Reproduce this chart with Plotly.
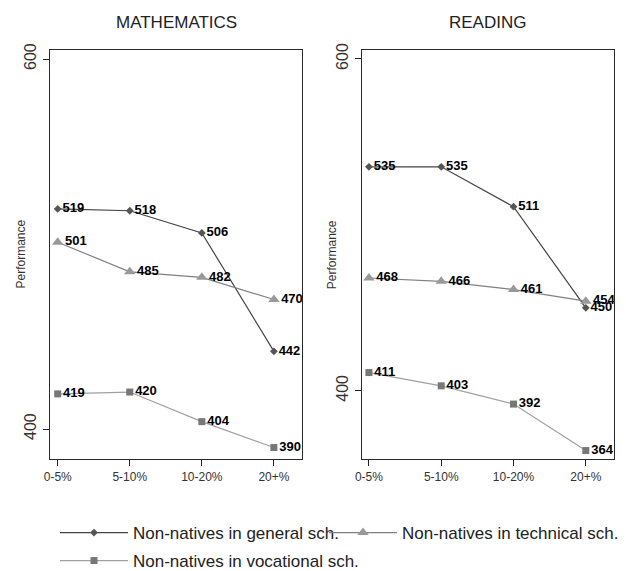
import plotly.graph_objects as go

categories = ["0-5%", "5-10%", "10-20%", "20+%"]

math_general = [519, 518, 506, 442]
math_technical = [501, 485, 482, 470]
math_vocational = [419, 420, 404, 390]

read_general = [535, 535, 511, 450]
read_technical = [468, 466, 461, 454]
read_vocational = [411, 403, 392, 364]

panel_titles = ["MATHEMATICS", "READING"]
series_names = ["Non-natives in general sch.", "Non-natives in technical sch.", "Non-natives in vocational sch."]
y_title = "Performance"
y_ticks = [400, 600]

FONT = "Liberation Sans, Arial, sans-serif"

styles = [
    dict(line=dict(color="#444444", width=1.2), marker=dict(symbol="diamond", size=6, color="#555555")),
    dict(line=dict(color="#808080", width=1.2), marker=dict(symbol="triangle-up", size=10, color="#999999")),
    dict(line=dict(color="#a0a0a0", width=1.2), marker=dict(symbol="square", size=7, color="#777777")),
]
legend_ids = ["legend", "legend2", "legend3"]

fig = go.Figure()

panels = [
    ("x", "y", [math_general, math_technical, math_vocational]),
    ("x2", "y2", [read_general, read_technical, read_vocational]),
]

for p, (xa, ya, series) in enumerate(panels):
    for i, vals in enumerate(series):
        fig.add_trace(go.Scatter(
            x=categories, y=vals, mode="lines+markers+text",
            text=[str(v) for v in vals], textposition="middle right",
            textfont=dict(family=FONT, size=13, color="#000000", weight="bold"),
            line=styles[i]["line"], marker=styles[i]["marker"],
            name=series_names[i], showlegend=(p == 0), legend=legend_ids[i],
            xaxis=xa, yaxis=ya, cliponaxis=False,
        ))

axis_common = dict(showline=True, linecolor="#2a2a2a", linewidth=1.3, mirror=True,
                   ticks="outside", ticklen=6, tickcolor="#222222", showgrid=False,
                   zeroline=False, automargin=False)

L, R, T, B = 50, 12, 50, 112
W, H = 626, 571
pw = W - L - R
ph = H - T - B
left_dom = [0, (302 - L) / pw]
right_dom = [(361.7 - L) / pw, 1]

def ly(px):
    return -(px - (H - B)) / ph

leg_common = dict(orientation="h", xanchor="left", yanchor="middle",
                  font=dict(size=17, color="#222222"), itemwidth=68, bgcolor="rgba(0,0,0,0)")

fig.update_layout(
    width=W, height=H,
    margin=dict(l=L, r=R, t=T, b=B, autoexpand=False),
    paper_bgcolor="white", plot_bgcolor="white",
    font=dict(family=FONT, color="#333333"),
    xaxis=dict(domain=left_dom, type="category", range=[-0.107, 3.39],
               tickfont=dict(size=12, color="#333333"), **axis_common),
    xaxis2=dict(domain=right_dom, type="category", range=[-0.10, 3.39], anchor="y2",
                tickfont=dict(size=12, color="#333333"), **axis_common),
    yaxis=dict(domain=[0, 1], range=[383.8, 604.9], tickvals=y_ticks, tickangle=-90,
               tickfont=dict(size=16, color="#333333"), **axis_common),
    yaxis2=dict(domain=[0, 1], range=[358.9, 605.4], tickvals=y_ticks, tickangle=-90, anchor="x2",
                tickfont=dict(size=16, color="#333333"), **axis_common),
    legend=dict(x=(55 - L) / pw, y=ly(533), **leg_common),
    legend2=dict(x=(324 - L) / pw, y=ly(533), **leg_common),
    legend3=dict(x=(55 - L) / pw, y=ly(561), **leg_common),
)

centers = [(left_dom[0] + left_dom[1]) / 2, (right_dom[0] + right_dom[1]) / 2]
for c, t in zip(centers, panel_titles):
    fig.add_annotation(x=c, y=1 + (T - 23) / ph, xref="paper", yref="paper", text=t,
                       showarrow=False, font=dict(family=FONT, size=17, color="#222222"),
                       xanchor="center", yanchor="middle")

for dom in (left_dom, right_dom):
    fig.add_annotation(x=dom[0] - 30 / pw, y=0.5, xref="paper", yref="paper", text=y_title,
                       textangle=-90, showarrow=False,
                       font=dict(family=FONT, size=12, color="#333333"),
                       xanchor="center", yanchor="middle")

fig.write_html("out.html")
